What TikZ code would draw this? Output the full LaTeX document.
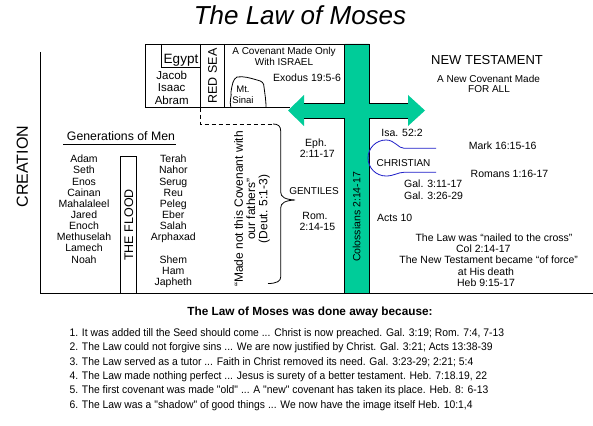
\documentclass[tikz,border=0pt]{standalone}
\usepackage{fontspec}
\setmainfont{Liberation Sans}
\newfontfamily\narrowfont[FakeStretch=0.94]{Liberation Sans}
\definecolor{crossgreen}{RGB}{0,204,153}
\definecolor{cblue}{RGB}{30,30,200}
\begin{document}
\begin{tikzpicture}[x=1pt,y=-1pt,
  txt/.style={inner sep=0pt, anchor=base, font=\fontsize{10.5}{12}\selectfont},
  txtl/.style={txt, anchor=base west},
  rot/.style={inner sep=0pt, rotate=90, anchor=center},
  listline/.style={inner sep=0pt, anchor=base west, font=\narrowfont\fontsize{11}{13}\selectfont},
  thin/.style={line width=0.8pt}]
\useasboundingbox (0,0) rectangle (593,425);
\fill[white] (0,0) rectangle (593,425);

% title
\node[inner sep=0pt, anchor=base, font=\itshape\fontsize{26}{30}\selectfont] (title) at (300,25) {The Law of Moses};

% top box
\draw[thin] (290,107.7) -- (145,107.7) -- (145,44) -- (344.5,44);
\draw[thin] (200,44) -- (200,107.7);
\draw[thin] (224.3,44) -- (224.3,107.7);
\draw[thin] (161,44) -- (161,67) -- (200,67);
\draw[thin, dash pattern=on 4pt off 3pt] (200,107.7) -- (200,124) -- (273,124);

% Mt Sinai
\draw[thin] (231,107.7) .. controls (229,100) and (232,96) .. (231,92) .. controls (232,85) and (233,79) .. (237,77)
  .. controls (244,76) and (250,78) .. (257,80) .. controls (262,81) and (264,83) .. (264,87)
  .. controls (265,95) and (266,100) .. (266,107.7);

% cross
\fill[crossgreen] (344.5,44) -- (369,44) -- (369,103) -- (408,103) -- (408,95) -- (425,110.5) -- (408,126) -- (408,118)
  -- (369,118) -- (369,293) -- (344.5,293) -- (344.5,118) -- (304,118) -- (304,126) -- (288,110.5) -- (304,95)
  -- (304,103) -- (344.5,103) -- cycle;
\draw[thin] (304,103) -- (344.5,103) -- (344.5,44) -- (369,44) -- (369,103) -- (408,103);
\draw[thin] (304,118) -- (344.5,118) -- (344.5,293);
\draw[thin] (408,118) -- (369,118) -- (369,293);

% brace
\draw[thin] (273,124) .. controls (278,124) and (280.7,126) .. (280.7,131) -- (280.7,192)
  .. controls (280.7,197) and (285,199.5) .. (295,200) .. controls (285,200.5) and (280.7,203) .. (280.7,208)
  -- (280.7,277) .. controls (280.7,281) and (277,283.5) .. (268,283.5);

% axes
\draw[line width=1pt] (40,52) -- (40,293) -- (593,293);

% flood box
\draw[thin] (120.7,293) -- (120.7,156) -- (136.7,156) -- (136.7,293);
\draw[thin] (63.3,144) -- (175.7,144);

% christian
\draw[cblue, thin] (436,148.3) -- (404,148.3) .. controls (398,148.3) and (395,140) .. (386,140)
  arc[start angle=270, end angle=90, radius=18] .. controls (394,176) and (398,172.3) .. (404,172.3) -- (436,172.3);

% texts top box
\node[txt, font=\fontsize{13.5}{15}\selectfont] (egypt) at (181,63.3) {Egypt};
\node[txt, font=\fontsize{11.5}{13}\selectfont] (jacob) at (171.7,80) {Jacob};
\node[txt, font=\fontsize{11.5}{13}\selectfont] (isaac) at (171.7,92) {Isaac};
\node[txt, font=\fontsize{11.5}{13}\selectfont] (abram) at (171.7,104) {Abram};
\node[rot, font=\fontsize{12.5}{14}\selectfont] (redsea) at (212.5,76) {RED SEA};
\node[txt, font=\fontsize{10}{12}\selectfont] (cov1) at (284,55) {A Covenant Made Only};
\node[txt, font=\fontsize{10}{12}\selectfont] (cov2) at (284,65.5) {With ISRAEL};
\node[txt] (exodus) at (307,82) {Exodus 19:5-6};
\node[txt, font=\fontsize{9.5}{11}\selectfont] (mt) at (243,92.5) {Mt.};
\node[txt, font=\fontsize{9.5}{11}\selectfont] (sinai) at (243,103.5) {Sinai};

% new testament
\node[txt, font=\fontsize{13}{15}\selectfont] (nt) at (487,65) {NEW TESTAMENT};
\node[txt, font=\fontsize{10}{12}\selectfont] (nt1) at (488.5,82.7) {A New Covenant Made};
\node[txt, font=\fontsize{10}{12}\selectfont] (nt2) at (489,92.7) {FOR ALL};

% left side
\node[rot, font=\fontsize{16}{18}\selectfont] (creation) at (22.3,166.7) {CREATION};
\node[txt, font=\fontsize{12.3}{14}\selectfont] (gen) at (121,140) {Generations of Men};
\foreach \n [count=\i] in {Adam,Seth,Enos,Cainan,Mahalaleel,Jared,Enoch,Methuselah,Lamech,Noah}
  \node[txt] (L\i) at (84,{151.55+11.15*\i}) {\n};
\foreach \n [count=\i] in {Terah,Nahor,Serug,Reu,Peleg,Eber,Salah,Arphaxad}
  \node[txt] (R\i) at (173.3,{151.55+11.15*\i}) {\n};
\foreach \n [count=\i from 10] in {Shem,Ham,Japheth}
  \node[txt] (S\i) at (173.3,{151.55+11.15*\i}) {\n};
\node[rot, font=\fontsize{12.5}{14}\selectfont] (flood) at (128.9,225) {THE FLOOD};

% middle
\node[rot, align=center, font=\fontsize{12}{12.35}\selectfont] (quote) at (252,209) {“Made not this Covenant with\\our fathers”\\(Deut. 5:1-3)};
\node[txt] (eph1) at (316,146.7) {Eph.};
\node[txt] (eph2) at (317.3,157.3) {2:11-17};
\node[txt, font=\fontsize{10}{12}\selectfont] (gent) at (314,194) {GENTILES};
\node[txt] (rom1) at (315,219) {Rom.};
\node[txt] (rom2) at (317.3,230) {2:14-15};
\node[rot, font=\fontsize{10.5}{12}\selectfont] (col) at (356.7,217) {Colossians 2:14-17};

% right
\node[txt] (isa) at (402,136.5) {Isa. 52:2};
\node[txt, font=\fontsize{10}{12}\selectfont] (christian) at (403.5,166) {CHRISTIAN};
\node[txt] (mark) at (502.7,149.7) {Mark 16:15-16};
\node[txt] (romans) at (509.5,177.3) {Romans 1:16-17};
\node[txtl] (gal1) at (404,187.5) {Gal. 3:11-17};
\node[txtl] (gal2) at (404,199.7) {Gal. 3:26-29};
\node[txtl] (acts) at (377,221.3) {Acts 10};
\node[txt] (law1) at (494,241.3) {The Law was “nailed to the cross”};
\node[txt] (law2) at (483.3,252.3) {Col 2:14-17};
\node[txt] (law3) at (488.7,263.3) {The New Testament became “of force”};
\node[txt] (law4) at (486,275.7) {at His death};
\node[txt] (law5) at (486,286.7) {Heb 9:15-17};

% bottom list
\node[inner sep=0pt, anchor=base, font=\bfseries\fontsize{11.8}{14}\selectfont] (btitle) at (310,315) {The Law of Moses was done away because:};
\node[listline] (b1) at (69.3,336.5) {1. It was added till the Seed should come ... Christ is now preached. Gal. 3:19; Rom. 7:4, 7-13};
\node[listline] (b2) at (69.3,350.8) {2. The Law could not forgive sins ... We are now justified by Christ. Gal. 3:21; Acts 13:38-39};
\node[listline] (b3) at (69.3,365.1) {3. The Law served as a tutor ... Faith in Christ removed its need. Gal. 3:23-29; 2:21; 5:4};
\node[listline] (b4) at (69.3,379.4) {4. The Law made nothing perfect ... Jesus is surety of a better testament. Heb. 7:18.19, 22};
\node[listline] (b5) at (69.3,393.7) {5. The first covenant was made "old" ... A "new" covenant has taken its place. Heb. 8: 6-13};
\node[listline] (b6) at (69.3,408) {6. The Law was a "shadow" of good things ... We now have the image itself Heb. 10:1,4};
\end{tikzpicture}
\end{document}
